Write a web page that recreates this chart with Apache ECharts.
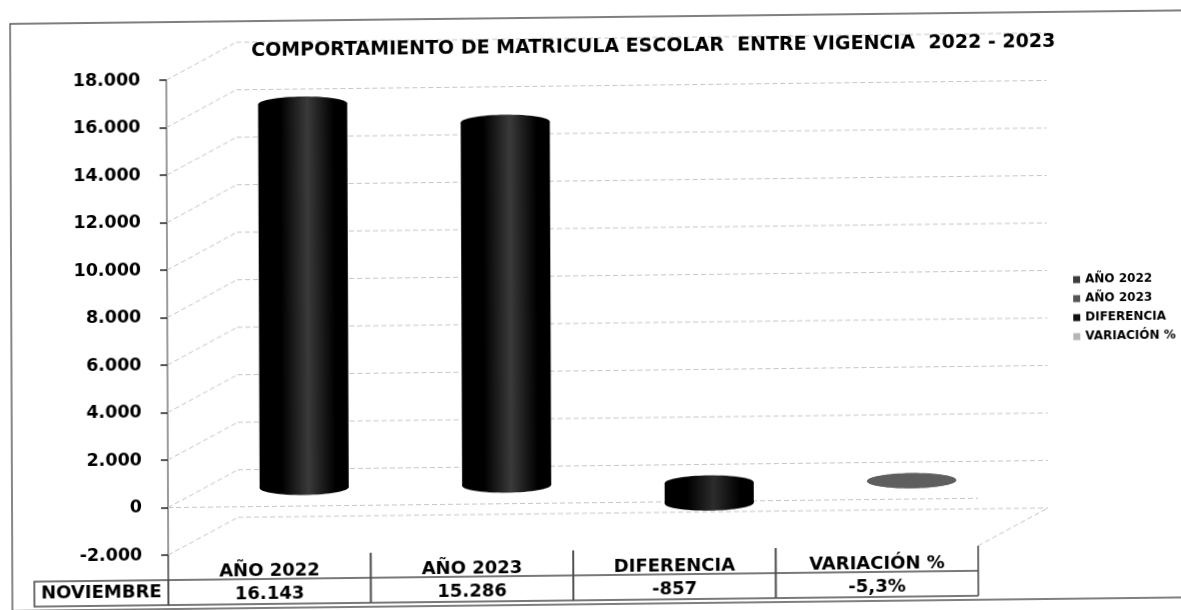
<!DOCTYPE html>
<html>
<head>
<meta charset="utf-8">
<style>
  html, body { margin: 0; background: #fff; overflow: hidden; width: 1181px; height: 610px; }
  /* la hoja escaneada viene ligeramente torcida */
  #box { width: 1200px; height: 640px; transform: matrix(1, -0.0115, 0.004, 1, 0, 0); transform-origin: 0 0; }
</style>
<script src="https://cdn.jsdelivr.net/npm/echarts@6/dist/echarts.min.js"></script>
</head>
<body>
<div id="box"></div>
<script>
var titulo = 'COMPORTAMIENTO DE MATRICULA ESCOLAR  ENTRE VIGENCIA  2022 - 2023';
var categorias = ['AÑO 2022', 'AÑO 2023', 'DIFERENCIA', 'VARIACIÓN %'];
var valores = [16143, 15286, -857, -5.3];
var filaTabla = ['16.143', '15.286', '-857', '-5,3%'];
var filaNombre = 'NOVIEMBRE';
var marcasY = [-2000, 0, 2000, 4000, 6000, 8000, 10000, 12000, 14000, 16000, 18000];
var coloresSerie = ['#3a3a3a', '#3a3a3a', '#2c2c2c', '#5e5e5e'];
var coloresLeyenda = ['#3c3c3c', '#555555', '#111111', '#b5b5b5'];

var fuente = '"DejaVu Sans", sans-serif';
var DX = 70, DY = 37;   // profundidad de la caja 3D
var FILA = 25;          // alto de cada fila de la tabla

function etiquetaMiles(v) {
    return String(v).replace(/(\d)(?=(\d{3})+$)/, '$1.');
}

// paredes y piso de la caja 3D
function renderFondo(params, api) {
    var gris = { stroke: '#c6c6c6', lineWidth: 1, lineDash: [5, 3] };
    var n = categorias.length;
    var ancho = api.size([1, 0])[0];
    var v = api.value(0);
    var ini = api.coord([0, v]);
    var x0 = ini[0] - ancho / 2, x1 = x0 + ancho * n, y = ini[1];
    var hijos = [
        { type: 'line', shape: { x1: x0, y1: y, x2: x0 + DX, y2: y - DY }, style: gris },
        { type: 'line', shape: { x1: x0 + DX, y1: y - DY, x2: x1 + DX, y2: y - DY }, style: gris }
    ];
    if (v === marcasY[0]) {
        hijos.push({ type: 'line', shape: { x1: x1, y1: y, x2: x1 + DX, y2: y - DY }, style: gris });
    }
    if (v === 0) {
        hijos.push({ type: 'line', shape: { x1: x0, y1: y, x2: x1, y2: y }, style: gris });
    }
    return { type: 'group', children: hijos };
}

function renderCilindro(params, api) {
    var i = api.value(0);
    var ancho = api.size([1, 0])[0];
    var rx = ancho * 0.22, ry = 7.5;
    var base = api.coord([i, 0]);
    var tope = api.coord([i, api.value(1)]);
    var cx = base[0] + DX / 2;
    var yA = Math.min(base[1], tope[1]) - DY / 2;
    var yB = Math.max(base[1], tope[1]) - DY / 2;
    var centro = api.visual('color');
    var borde = i === 3 ? centro : '#000';
    var relleno = new echarts.graphic.LinearGradient(0, 0, 1, 0, [
        { offset: 0, color: borde },
        { offset: 0.25, color: borde },
        { offset: 0.55, color: centro },
        { offset: 0.85, color: borde },
        { offset: 1, color: borde }
    ]);
    return {
        type: 'group',
        children: [
            { type: 'ellipse', shape: { cx: cx, cy: yB, rx: rx, ry: ry }, style: { fill: relleno } },
            { type: 'rect', shape: { x: cx - rx, y: yA, width: rx * 2, height: yB - yA }, style: { fill: relleno } },
            { type: 'ellipse', shape: { cx: cx, cy: yA, rx: rx, ry: ry }, style: { fill: relleno } }
        ]
    };
}

// bordes de la tabla de datos debajo del eje
function renderTabla(params, api) {
    var i = api.value(0);
    var ancho = api.size([1, 0])[0];
    var c = api.coord([i, marcasY[0]]);
    var x = c[0] - ancho / 2, y = c[1];
    var linea = { fill: 'none', stroke: '#4c4c4c', lineWidth: 1.6 };
    var hijos = [
        { type: 'line', shape: { x1: x, y1: y, x2: x, y2: y + FILA * 2 }, style: linea },
        { type: 'line', shape: { x1: x + ancho, y1: y, x2: x + ancho, y2: y + FILA * 2 }, style: linea },
        { type: 'line', shape: { x1: x, y1: y + FILA, x2: x + ancho, y2: y + FILA }, style: linea },
        { type: 'line', shape: { x1: x, y1: y + FILA * 2, x2: x + ancho, y2: y + FILA * 2 }, style: linea }
    ];
    if (i === 0) {
        hijos.push({ type: 'rect', shape: { x: x - 134, y: y + FILA, width: 134, height: FILA }, style: linea });
        hijos.push({
            type: 'text',
            style: {
                text: filaNombre, x: x - 67, y: y + FILA * 1.5, align: 'center', verticalAlign: 'middle',
                font: 'bold 18px ' + fuente, fill: '#000'
            }
        });
    }
    return { type: 'group', children: hijos };
}

var series = [
    { name: 'fondo', type: 'custom', renderItem: renderFondo, silent: true, z: 1, data: marcasY.map(function (v) { return [v]; }) },
    { name: 'tabla', type: 'custom', renderItem: renderTabla, silent: true, z: 1, data: categorias.map(function (c, i) { return [i]; }) }
];
categorias.forEach(function (c, i) {
    series.push({
        name: c,
        type: 'custom',
        renderItem: renderCilindro,
        itemStyle: { color: coloresSerie[i] },
        z: 3,
        encode: { x: 0, y: 1 },
        data: [[i, valores[i]]]
    });
});

var myChart = echarts.init(document.getElementById('box'));
myChart.setOption({
    animation: false,
    backgroundColor: '#fff',
    title: {
        text: titulo,
        left: 246,
        top: 40,
        textStyle: { fontFamily: fuente, fontWeight: 'bold', fontSize: 19, color: '#000' }
    },
    legend: {
        data: categorias.map(function (c, i) {
            return { name: c, icon: 'rect', itemStyle: { color: coloresLeyenda[i] } };
        }),
        orient: 'vertical',
        left: 1067,
        top: 281,
        itemWidth: 7,
        itemHeight: 7,
        itemGap: 7,
        textStyle: { fontFamily: fuente, fontWeight: 'bold', fontSize: 12, color: '#000' }
    },
    grid: { left: 166, top: 82, width: 810, height: 475 },
    xAxis: {
        type: 'category',
        data: categorias,
        axisLine: { onZero: false, show: false },
        axisTick: { show: false },
        axisLabel: {
            margin: 6,
            interval: 0,
            formatter: function (val, idx) {
                return '{a|' + val + '}\n{b|' + filaTabla[idx] + '}';
            },
            rich: {
                a: { fontFamily: fuente, fontWeight: 'bold', fontSize: 18, lineHeight: 23, color: '#000' },
                b: { fontFamily: fuente, fontWeight: 'bold', fontSize: 18, lineHeight: 23, color: '#000' }
            }
        }
    },
    yAxis: {
        type: 'value',
        min: marcasY[0],
        max: marcasY[marcasY.length - 1],
        interval: 2000,
        axisLine: { show: true, lineStyle: { color: '#7a7a7a', width: 1.5 } },
        axisTick: { show: true, length: 7, lineStyle: { color: '#222', width: 1.5 } },
        splitLine: { show: false },
        axisLabel: {
            margin: 26,
            fontFamily: fuente,
            fontWeight: 'bold',
            fontSize: 17.5,
            color: '#000',
            formatter: etiquetaMiles
        }
    },
    graphic: [{
        type: 'rect',
        z: 0,
        silent: true,
        shape: { x: 10, y: 24, width: 1195, height: 587 },
        style: { fill: 'none', stroke: '#555', lineWidth: 1.4 }
    }],
    series: series
});
</script>
</body>
</html>
